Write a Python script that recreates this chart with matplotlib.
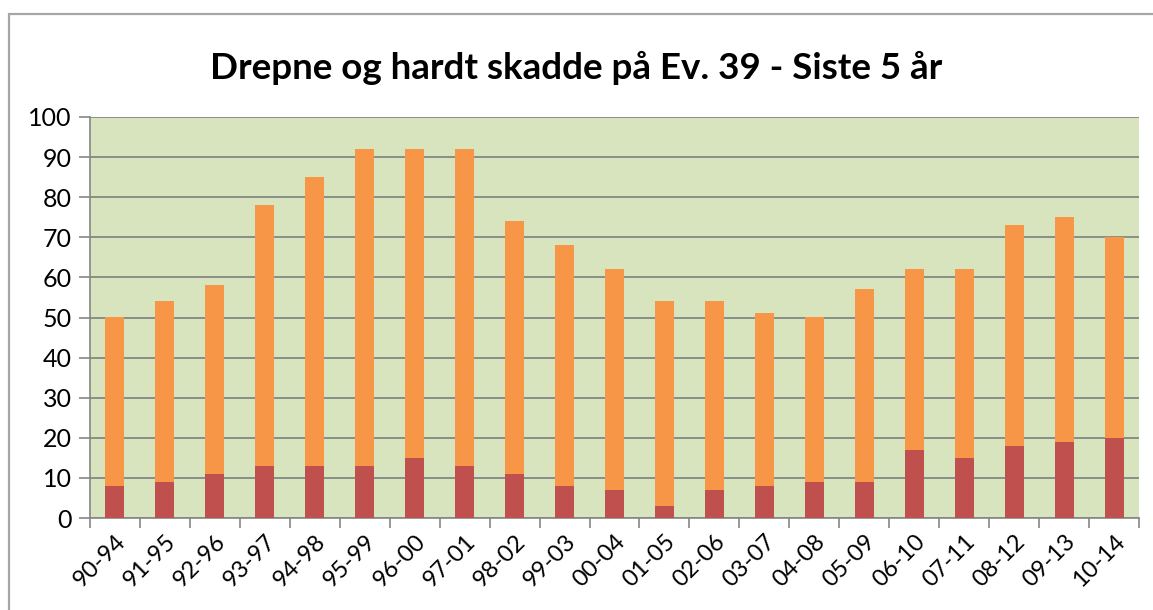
import matplotlib.pyplot as plt
from matplotlib.patches import Rectangle
import numpy as np

plt.rcParams['font.family'] = ['Lato', 'DejaVu Sans']

# 5-year periods on Ev. 39
perioder = ['90-94', '91-95', '92-96', '93-97', '94-98', '95-99', '96-00',
            '97-01', '98-02', '99-03', '00-04', '01-05', '02-06', '03-07',
            '04-08', '05-09', '06-10', '07-11', '08-12', '09-13', '10-14']
drepne = [8, 9, 11, 13, 13, 13, 15, 13, 11, 8, 7, 3, 7, 8, 9, 9, 17, 15, 18, 19, 20]
hardt_skadde = [42, 45, 47, 65, 72, 79, 77, 79, 63, 60, 55, 51, 47, 43, 41, 48,
                45, 47, 55, 56, 50]

W, H = 1153, 610
fig = plt.figure(figsize=(W / 100, H / 100), dpi=100)
ax = fig.add_axes([90 / W, 1 - 518 / H, (1139 - 90) / W, (518 - 117) / H])

# chart frame (open on the right)
fig.patches.append(Rectangle((9 / W, -0.1), 1.5, 1 - 14 / H + 0.1,
                             transform=fig.transFigure, fill=False,
                             edgecolor='#a6a6a6', linewidth=1.6))

x = np.arange(len(perioder))
ax.set_facecolor('#d7e4bd')
ax.bar(x, drepne, width=0.38, color='#c0504d', zorder=3)
ax.bar(x, hardt_skadde, width=0.38, bottom=drepne, color='#f79646', zorder=3)

ax.set_xlim(-0.5, len(perioder) - 0.5)
ax.set_ylim(0, 100)
ax.set_yticks(range(0, 101, 10))
ax.yaxis.grid(True, color='#7f7f7f', linewidth=1.2, zorder=1)
ax.set_axisbelow(True)

ax.set_xticks(x)
ax.set_xticklabels(perioder, rotation=45, ha='right', rotation_mode='anchor',
                   fontsize=17)
ax.tick_params(axis='x', length=0, pad=9)
ax.set_xticks(np.arange(-0.5, len(perioder), 1), minor=True)
ax.tick_params(axis='x', which='minor', length=7, color='#868686', width=1.2)
ax.tick_params(axis='y', length=8, color='#868686', width=1.2, labelsize=18,
               pad=5)

for side in ['top', 'right']:
    ax.spines[side].set_visible(False)
for side in ['left', 'bottom']:
    ax.spines[side].set_color('#868686')
    ax.spines[side].set_linewidth(1.2)

fig.text(576 / W, 1 - 68 / H, 'Drepne og hardt skadde på Ev. 39 - Siste 5 år',
         ha='center', va='center', fontsize=26.5, fontweight='bold')

fig.savefig('out.png', dpi=100, facecolor='white')
